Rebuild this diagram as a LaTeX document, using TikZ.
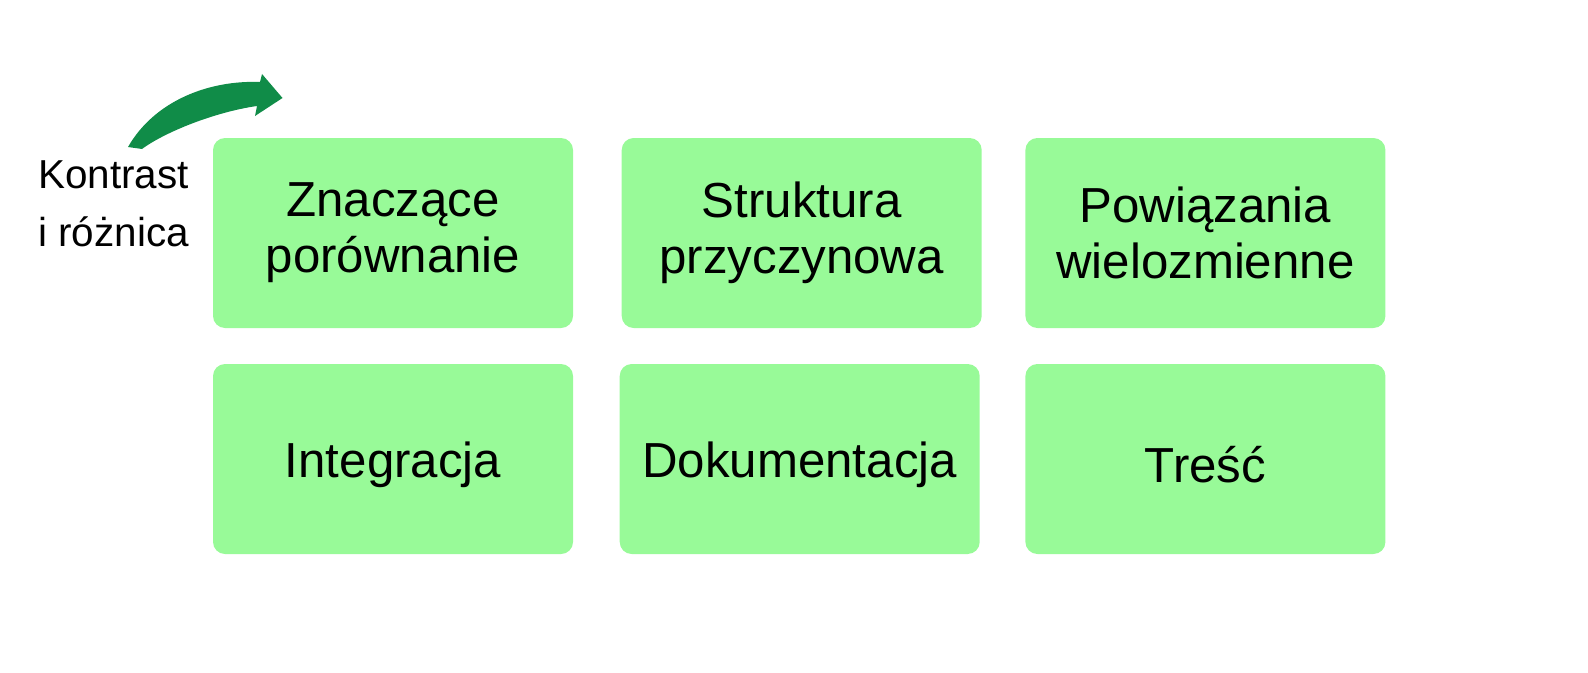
\documentclass[tikz,border=0pt]{standalone}
\usepackage{fontspec}
\setmainfont{Liberation Sans}
\usepackage{tikz}
\usetikzlibrary{positioning}

\definecolor{boxgreen}{RGB}{152,250,152}
\definecolor{arrowgreen}{RGB}{16,140,72}

\tikzset{
	card/.style={fill=boxgreen, rounded corners=0.24cm, minimum width=7.2cm, minimum height=3.8cm,
		align=center, font=\fontsize{28}{32}\selectfont, text=black,
		execute at begin node={\rule{0pt}{0.96cm}}},
}

\begin{document}
\begin{tikzpicture}
			\useasboundingbox	(0, 0) rectangle (31.76, 13.44);
			\node	(Z)	at	(7.86, 8.78)	[card]	{Znaczące\\porównanie};
			\node	(S)	[card, right=0.96cm of Z]	{Struktura\\przyczynowa};
			\node	(P)	[card, right=0.86cm of S]	{Powiązania\\wielozmienne};
			\node	(I)	at	(7.86, 4.26)	[card]	{Integracja};
			\node	(D)	[card, right=0.92cm of I]	{Dokumentacja};
			\node	(T)	[card, right=0.90cm of D]	{Treść};

			\node	(K)	at	(0.76, 9.36)	[anchor=west, inner sep=0, align=left, font=\fontsize{23}{33}\selectfont]	{Kontrast\\i różnica};

			\fill	[arrowgreen]	(2.56, 10.5) .. controls (3.1, 11.44) and (4.2, 11.84) .. (5.2, 11.8)
					-- (5.24, 11.96) -- (5.65, 11.48) -- (5.10, 11.12) -- (5.14, 11.32)
					.. controls (4.3, 11.2) and (3.3, 10.8) .. (2.84, 10.46) -- cycle;
		\end{tikzpicture}
\end{document}
